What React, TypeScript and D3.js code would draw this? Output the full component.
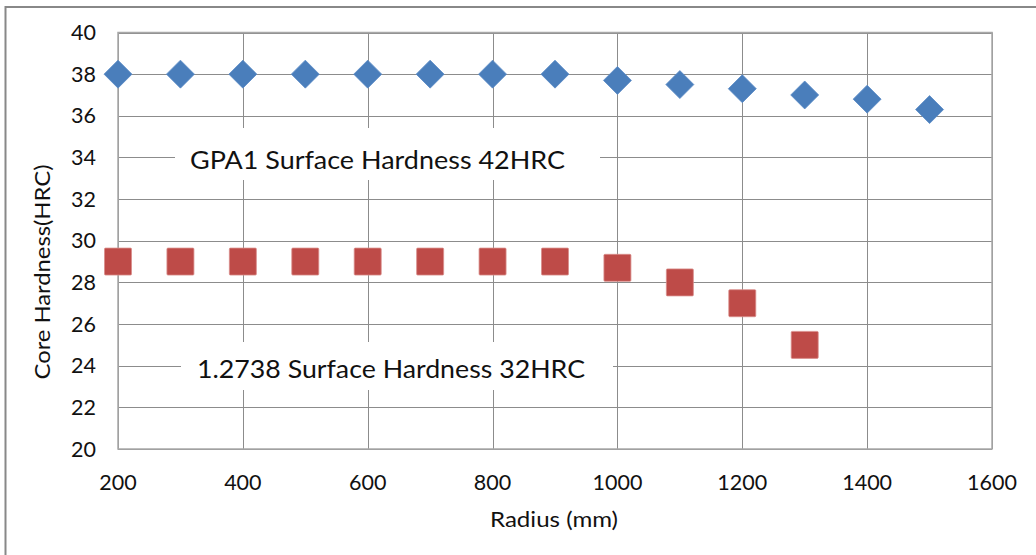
import React from "react";
import * as d3 from "d3";

const radius = [200, 300, 400, 500, 600, 700, 800, 900, 1000, 1100, 1200, 1300, 1400, 1500];
const gpa1 = [38, 38, 38, 38, 38, 38, 38, 38, 37.7, 37.5, 37.3, 37.0, 36.8, 36.3];
const radius2738 = [200, 300, 400, 500, 600, 700, 800, 900, 1000, 1100, 1200, 1300];
const steel2738 = [29, 29, 29, 29, 29, 29, 29, 29, 28.7, 28.0, 27.0, 25.0];
const xTicks = [200, 400, 600, 800, 1000, 1200, 1400, 1600];
const yTicks = [20, 22, 24, 26, 28, 30, 32, 34, 36, 38, 40];
const labels = ["GPA1 Surface Hardness 42HRC", "1.2738 Surface Hardness 32HRC"];

const W = 1036;
const H = 555;
const left = 118;
const right = 992;
const top = 32.5;
const bottom = 449;
const FONT = "Lato, 'Open Sans', sans-serif";

export default function App() {
  const x = d3.scaleLinear().domain([200, 1600]).range([left, right]);
  const y = d3.scaleLinear().domain([20, 40]).range([bottom, top]);
  const diamond = 14;
  const sq = 13.5;

  return (
    <svg width={W} height={H} style={{ position: "absolute", left: 0, top: 0, display: "block", background: "#fff" }}>
      <rect x={5.5} y={7} width={W + 10} height={H + 10} fill="#fff" stroke="#888" strokeWidth={2} />
      {/* gridlines */}
      {yTicks.map((t) => (
        <line key={"gy" + t} x1={left} x2={right} y1={Math.round(y(t)) + 0.5} y2={Math.round(y(t)) + 0.5} stroke="#8c8c8c" strokeWidth={1} />
      ))}
      {xTicks.map((t) => (
        <line key={"gx" + t} x1={Math.round(x(t)) + 0.5} x2={Math.round(x(t)) + 0.5} y1={top} y2={bottom} stroke="#8c8c8c" strokeWidth={1} />
      ))}
      <rect x={left} y={top} width={right - left} height={bottom - top} fill="none" stroke="#a8a8a8" strokeWidth={1.5} />
      {/* annotation boxes */}
      <rect x={175} y={128} width={425} height={52} fill="#fff" />
      <rect x={181} y={342} width={432} height={48} fill="#fff" />
      <text x={190} y={169} fontFamily={FONT} fontSize={25} fill="#111" textLength={375} lengthAdjust="spacingAndGlyphs">{labels[0]}</text>
      <text x={197} y={378} fontFamily={FONT} fontSize={25} fill="#111" textLength={388} lengthAdjust="spacingAndGlyphs">{labels[1]}</text>
      {/* series */}
      {radius.map((r, i) => {
        const cx = x(r), cy = y(gpa1[i]);
        return (
          <path key={"d" + r} d={`M${cx},${cy - diamond}L${cx + diamond},${cy}L${cx},${cy + diamond}L${cx - diamond},${cy}Z`} fill="#4a7ebb" stroke="#5c8cc6" strokeWidth={0.8} />
        );
      })}
      {radius2738.map((r, i) => {
        const cx = x(r), cy = y(steel2738[i]);
        return (
          <rect key={"s" + r} x={cx - sq} y={cy - sq} width={sq * 2} height={sq * 2} rx={1} fill="#be4b48" stroke="#d98e8c" strokeWidth={0.8} />
        );
      })}
      {/* tick labels */}
      {yTicks.map((t) => (
        <text key={"ty" + t} x={96} y={y(t) + 7.5} textAnchor="end" fontFamily={FONT} fontSize={21.5} fill="#111">{t}</text>
      ))}
      {xTicks.map((t) => (
        <text key={"tx" + t} x={x(t)} y={490} textAnchor="middle" fontFamily={FONT} fontSize={21.5} fill="#111">{t}</text>
      ))}
      <text x={554} y={527} textAnchor="middle" fontFamily={FONT} fontSize={21} fill="#111" textLength={128} lengthAdjust="spacingAndGlyphs">Radius (mm)</text>
      <text transform={`translate(50,272) rotate(-90)`} textAnchor="middle" fontFamily={FONT} fontSize={21} fill="#111" textLength={215} lengthAdjust="spacingAndGlyphs">Core Hardness(HRC)</text>
    </svg>
  );
}
